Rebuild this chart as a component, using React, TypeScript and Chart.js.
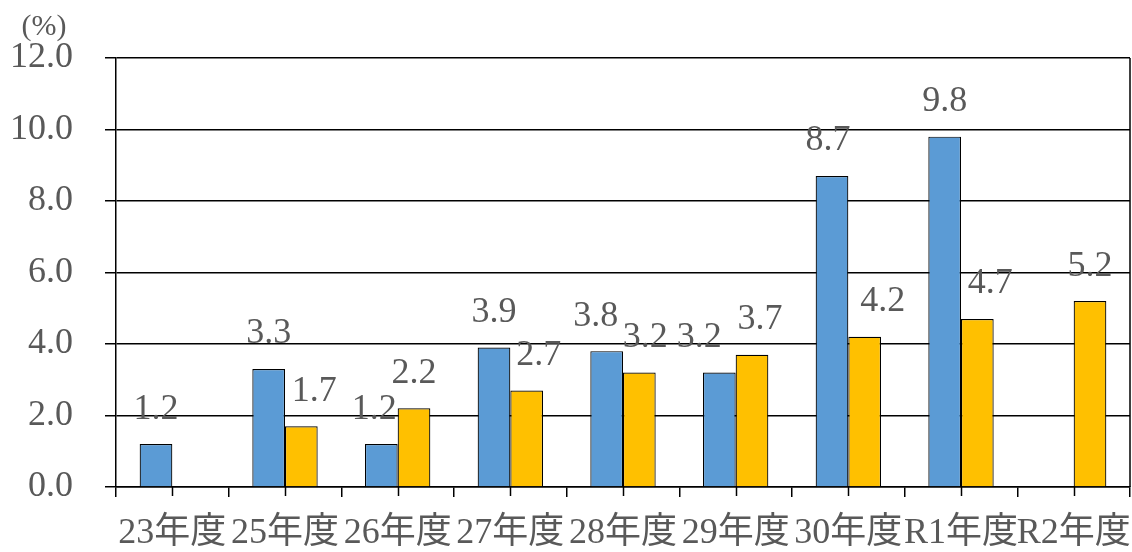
import React, { useEffect, useRef } from "react";
import { Chart, registerables } from "chart.js";

Chart.register(...registerables);

const categories = ["23年度", "25年度", "26年度", "27年度", "28年度", "29年度", "30年度", "R1年度", "R2年度"];
const seriesBlue: (number | null)[] = [1.2, 3.3, 1.2, 3.9, 3.8, 3.2, 8.7, 9.8, null];
const seriesYellow: (number | null)[] = [null, 1.7, 2.2, 2.7, 3.2, 3.7, 4.2, 4.7, 5.2];
const yTicks = [0, 2, 4, 6, 8, 10, 12];
const unitLabel = "(%)";

const FONT = '"Liberation Serif", "DejaVu Serif", "Noto Sans CJK JP", serif';
const TEXT = "#595959";

const labelNudge = [
  [0, 0, -7, 0, -11, -20, -4, 0, 0],
  [0, 13, 0, 12, 6, 8, 18, 13, 0],
];

const decorPlugin = {
  id: "decor",
  afterDatasetsDraw(chart: any) {
    const { ctx, chartArea, scales } = chart;
    const x = scales.x;
    ctx.save();
    // right border
    ctx.strokeStyle = "#000";
    ctx.lineWidth = 1.5;
    ctx.beginPath();
    ctx.moveTo(chartArea.right, chartArea.top);
    ctx.lineTo(chartArea.right, chartArea.bottom);
    ctx.stroke();
    // center tick marks
    for (let i = 0; i < categories.length; i++) {
      const px = Math.round(x.getPixelForValue(i)) + 0.5;
      ctx.beginPath();
      ctx.moveTo(px, chartArea.bottom);
      ctx.lineTo(px, chartArea.bottom + 9);
      ctx.stroke();
    }
    // data labels
    ctx.font = `36px ${FONT}`;
    ctx.fillStyle = TEXT;
    ctx.textAlign = "center";
    ctx.textBaseline = "middle";
    chart.data.datasets.forEach((ds: any, di: number) => {
      const meta = chart.getDatasetMeta(di);
      meta.data.forEach((bar: any, i: number) => {
        const v = ds.data[i];
        if (v === null || v === undefined) return;
        ctx.fillText(v.toFixed(1), bar.x + labelNudge[di][i], bar.y - 35);
      });
    });
    // unit label
    ctx.font = `30px ${FONT}`;
    ctx.fillText(unitLabel, chartArea.left - 72, chartArea.top - 31);
    ctx.restore();
  },
};

export default function App() {
  const ref = useRef<HTMLCanvasElement | null>(null);
  useEffect(() => {
    if (!ref.current) return;
    const chart = new Chart(ref.current, {
      type: "bar",
      data: {
        labels: categories,
        datasets: [
          {
            data: seriesBlue,
            backgroundColor: "#5B9BD5",
            borderColor: "#000",
            borderWidth: 1.2,
            categoryPercentage: 0.58,
            barPercentage: 1,
          },
          {
            data: seriesYellow,
            backgroundColor: "#FFC000",
            borderColor: "#000",
            borderWidth: 1.2,
            categoryPercentage: 0.58,
            barPercentage: 1,
          },
        ],
      },
      options: {
        animation: false,
        responsive: false,
        maintainAspectRatio: false,
        layout: { padding: { top: 58, right: 2, left: 0, bottom: 0 } },
        plugins: { legend: { display: false }, tooltip: { enabled: false } },
        scales: {
          x: {
            afterFit: (axis: any) => {
              axis.height = 65;
              axis.paddingLeft = 0;
              axis.paddingRight = 0;
            },
            grid: {
              offset: true,
              drawOnChartArea: false,
              color: "#000",
              lineWidth: 1.5,
              tickLength: 10,
            },
            border: { display: true, color: "#000", width: 1.5 },
            ticks: {
              autoSkip: false,
              maxRotation: 0,
              minRotation: 0,
              padding: 19,
              color: TEXT,
              font: { family: FONT, size: 36, lineHeight: 1 },
            },
          },
          y: {
            min: 0,
            max: 12,
            afterFit: (axis: any) => {
              axis.width = 116;
              axis.paddingTop = 0;
              axis.paddingBottom = 0;
            },
            afterBuildTicks: (axis: any) => {
              axis.ticks = yTicks.map((v) => ({ value: v }));
            },
            grid: { color: "#000", lineWidth: 1.5, tickLength: 11, tickColor: "#000" },
            border: { display: true, color: "#000", width: 1.5 },
            ticks: {
              padding: 32,
              color: TEXT,
              font: { family: FONT, size: 36, lineHeight: 1 },
              callback: (v: any) => Number(v).toFixed(1),
            },
          },
        },
      },
      plugins: [decorPlugin],
    });
    return () => chart.destroy();
  }, []);
  return (
    <div style={{ position: "fixed", left: 0, top: 0, width: 1132, height: 552, background: "#fff" }}>
      <canvas ref={ref} width={1132} height={552} style={{ display: "block", width: 1132, height: 552 }} />
    </div>
  );
}
